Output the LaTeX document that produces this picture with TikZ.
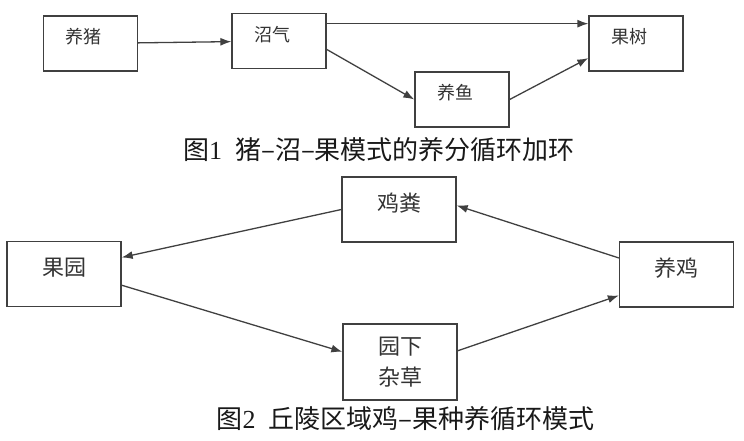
\documentclass[tikz,border=0pt]{standalone}
\usepackage{fontspec}
\setmainfont{Noto Sans CJK SC}
\newfontfamily\numfont{Liberation Serif}
\usetikzlibrary{arrows.meta}

\begin{document}
\begin{tikzpicture} [
    x=1pt, y=-1pt,
    >={Latex[length=11pt,width=8pt]},
    box/.style={rectangle, draw=black!75, line width=1.3pt, inner sep=0pt, text=black!80},
    smallbox/.style={box, font=\fontsize{18}{18}\selectfont, align=left,
      text width=50pt, inner xsep=22pt, text height=28pt, text depth=27pt},
    bigbox/.style={box, font=\fontsize{22}{22}\selectfont,
      minimum width=114pt, text height=34pt, text depth=31pt},
    tallbox/.style={box, font=\fontsize{22}{31}\selectfont, align=center,
      minimum width=114pt, minimum height=76pt},
    caption/.style={font=\fontsize{26}{26}\selectfont, text=black!90},
    flow/.style={color=black!75, line width=1.3pt},
    ]
    \useasboundingbox (0,0) rectangle (744,441);
    % Figure 1
    \node[smallbox] (hog) at (90.5,43.5) {养猪};
    \node[smallbox] (gas) at (279,41) {沼气};
    \node[smallbox] (tree) at (636,43.5) {果树};
    \node[smallbox] (fish) at (462,99.5) {养鱼};
    \node[caption] (cap1) at (379,150) {图{\numfont 1}\hspace{0.5em}猪–沼–果模式的养分循环加环};
    % Figure 2
    \node[bigbox] (dung) at (399,209.5) {鸡粪};
    \node[bigbox] (orchard) at (64,274) {果园};
    \node[bigbox] (hens) at (676.5,274.5) {养鸡};
    \node[tallbox] (weeds) at (400,362) {园下\\杂草};
    \node[caption] (cap2) at (405.5,419) {图{\numfont 2}\hspace{0.5em}丘陵区域鸡–果种养循环模式};
    \path [->, flow]
    (hog) edge (gas) (gas.20) edge (gas.20 -| tree.west)
    (gas.-10) edge (fish.west) (fish.east) edge (tree.197)
    (dung.west) edge (orchard.16) (orchard.-11) edge (weeds.170)
    (weeds.11) edge (hens.200) (hens.164) edge (dung.4);
  \end{tikzpicture}
\end{document}
